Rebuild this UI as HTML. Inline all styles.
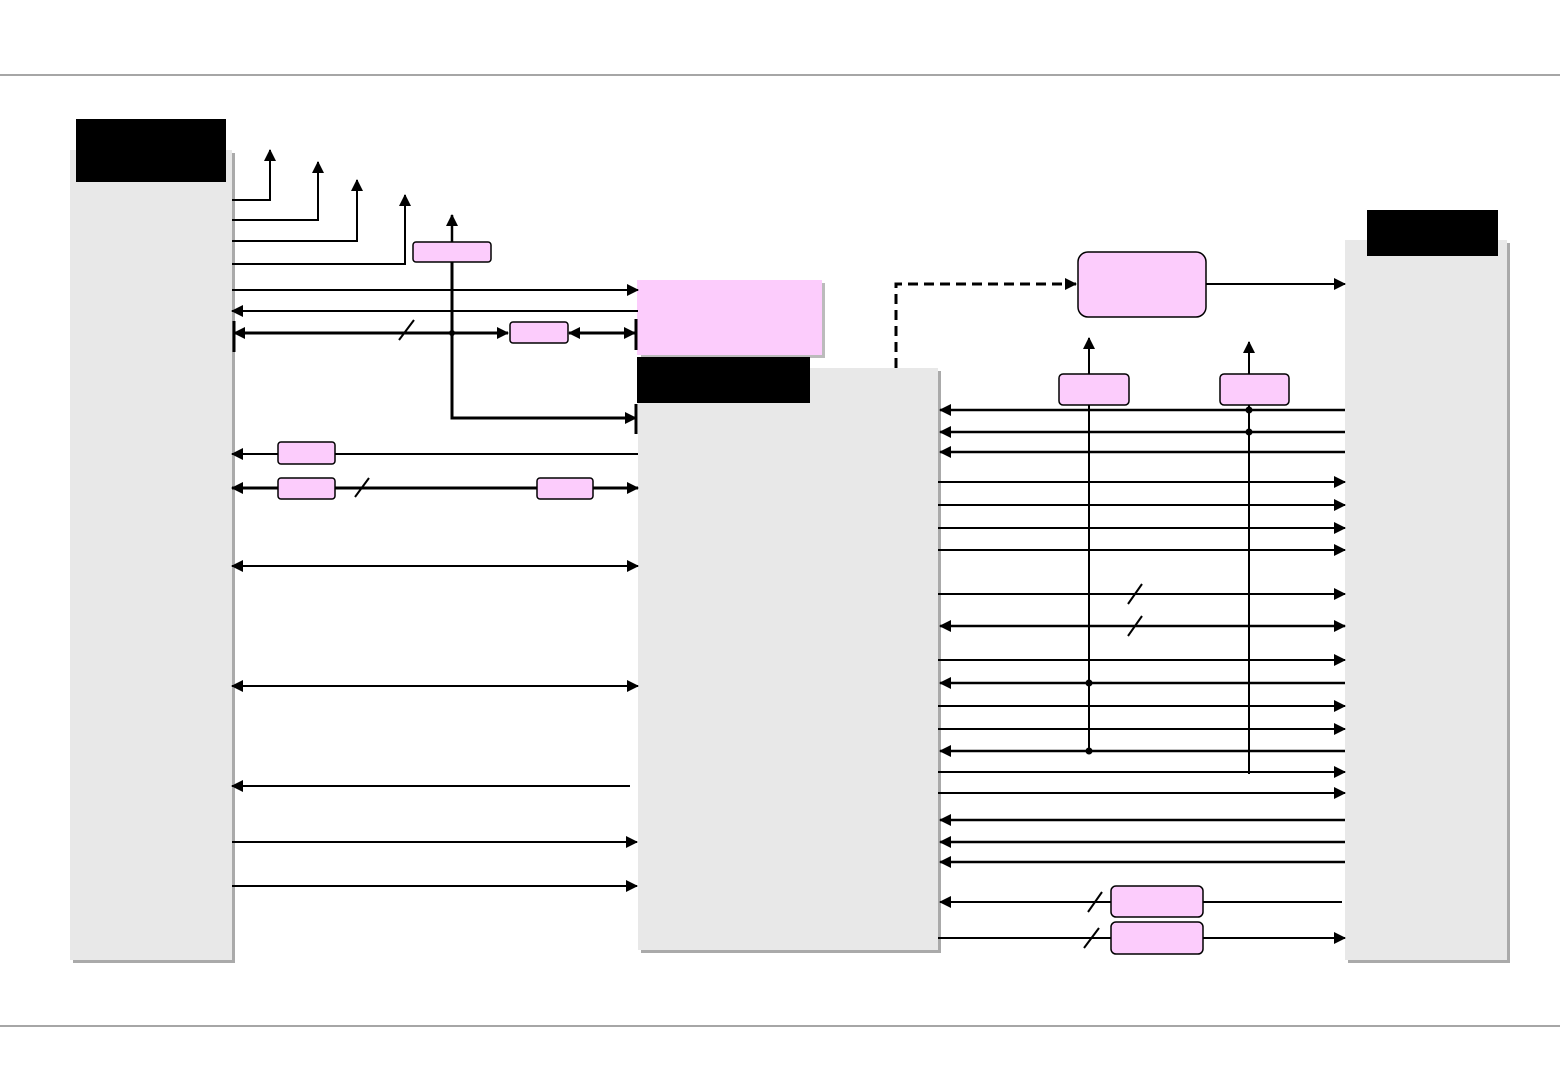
<!DOCTYPE html>
<html><head><meta charset="utf-8"><style>html,body{margin:0;padding:0;background:#fff}svg{display:block}</style></head>
<body>
<svg width="1560" height="1080" viewBox="0 0 1560 1080" xmlns="http://www.w3.org/2000/svg">
<defs>
<marker id="a" markerUnits="userSpaceOnUse" markerWidth="12" markerHeight="12" refX="11" refY="6" orient="auto-start-reverse"><path d="M0,0 L12,6 L0,12 z" fill="#000"/></marker>
</defs>
<line x1="0" y1="75" x2="1560" y2="75" stroke="#888" stroke-width="1.5"/>
<line x1="0" y1="1026" x2="1560" y2="1026" stroke="#888" stroke-width="1.5"/>
<!-- panels -->
<rect x="73" y="153" width="162" height="810" fill="#aaa"/>
<rect x="70" y="150" width="162" height="810" fill="#e8e8e8"/>
<rect x="76" y="119" width="150" height="63" fill="#000"/>
<rect x="641" y="371" width="300" height="582" fill="#aaa"/>
<rect x="638" y="368" width="300" height="582" fill="#e8e8e8"/>
<rect x="825" y="283" width="0" height="0"/>
<rect x="641" y="283" width="184" height="75" fill="#bbb"/>
<rect x="637" y="280" width="185" height="75" fill="#fcccfc"/>
<rect x="637" y="357" width="173" height="46" fill="#000"/>
<rect x="1348" y="243" width="162" height="720" fill="#aaa"/>
<rect x="1345" y="240" width="162" height="720" fill="#e8e8e8"/>
<rect x="1367" y="210" width="131" height="46" fill="#000"/>
<g stroke="#000" fill="none" stroke-width="2">
<!-- left top -->
<polyline points="232,200 270,200 270,150" marker-end="url(#a)"/>
<polyline points="232,220 318,220 318,162" marker-end="url(#a)"/>
<polyline points="232,241 357,241 357,180" marker-end="url(#a)"/>
<polyline points="232,264 405,264 405,195" marker-end="url(#a)"/>
<line x1="452" y1="242" x2="452" y2="215" stroke-width="2.5" marker-end="url(#a)"/>
<polyline points="452,262 452,418 636,418" stroke-width="3" marker-end="url(#a)"/>
<line x1="636" y1="404" x2="636" y2="434" stroke-width="3"/>
<line x1="232" y1="290" x2="638" y2="290" marker-end="url(#a)"/>
<line x1="638" y1="311" x2="232" y2="311" marker-end="url(#a)"/>
<line x1="234" y1="333" x2="508" y2="333" stroke-width="3" marker-start="url(#a)" marker-end="url(#a)"/>
<line x1="569" y1="333" x2="635" y2="333" stroke-width="3" marker-start="url(#a)" marker-end="url(#a)"/>
<line x1="234" y1="321" x2="234" y2="352" stroke-width="3"/>
<line x1="636" y1="319" x2="636" y2="350" stroke-width="3"/>
<line x1="399" y1="340" x2="414" y2="320"/>
<line x1="638" y1="454" x2="232" y2="454" marker-end="url(#a)"/>
<line x1="232" y1="488" x2="638" y2="488" stroke-width="3" marker-start="url(#a)" marker-end="url(#a)"/>
<line x1="355" y1="497" x2="369" y2="478"/>
<line x1="232" y1="566" x2="638" y2="566" marker-start="url(#a)" marker-end="url(#a)"/>
<line x1="232" y1="686" x2="638" y2="686" marker-start="url(#a)" marker-end="url(#a)"/>
<line x1="630" y1="786" x2="232" y2="786" marker-end="url(#a)"/>
<line x1="232" y1="842" x2="637" y2="842" marker-end="url(#a)"/>
<line x1="232" y1="886" x2="637" y2="886" marker-end="url(#a)"/>
<!-- dashed -->
<polyline points="896,368 896,284 1076,284" stroke-width="3" stroke-dasharray="10,6" marker-end="url(#a)"/>
<line x1="1206" y1="284" x2="1345" y2="284" marker-end="url(#a)"/>
<!-- right lines -->
<g stroke-width="2.5">
<line x1="1345" y1="410" x2="940" y2="410" marker-end="url(#a)"/>
<line x1="1345" y1="432" x2="940" y2="432" marker-end="url(#a)"/>
<line x1="1345" y1="452" x2="940" y2="452" marker-end="url(#a)"/>
<line x1="1345" y1="683" x2="940" y2="683" marker-end="url(#a)"/>
<line x1="1345" y1="751" x2="940" y2="751" marker-end="url(#a)"/>
<line x1="1345" y1="820" x2="940" y2="820" marker-end="url(#a)"/>
<line x1="1345" y1="842" x2="940" y2="842" marker-end="url(#a)"/>
<line x1="1345" y1="862" x2="940" y2="862" marker-end="url(#a)"/>
<line x1="940" y1="626" x2="1345" y2="626" marker-start="url(#a)" marker-end="url(#a)"/>
</g>
<line x1="1342" y1="902" x2="940" y2="902" marker-end="url(#a)"/>
<line x1="938" y1="482" x2="1345" y2="482" marker-end="url(#a)"/>
<line x1="938" y1="505" x2="1345" y2="505" marker-end="url(#a)"/>
<line x1="938" y1="528" x2="1345" y2="528" marker-end="url(#a)"/>
<line x1="938" y1="550" x2="1345" y2="550" marker-end="url(#a)"/>
<line x1="938" y1="594" x2="1345" y2="594" marker-end="url(#a)"/>
<line x1="938" y1="660" x2="1345" y2="660" marker-end="url(#a)"/>
<line x1="938" y1="706" x2="1345" y2="706" marker-end="url(#a)"/>
<line x1="938" y1="729" x2="1345" y2="729" marker-end="url(#a)"/>
<line x1="938" y1="772" x2="1345" y2="772" marker-end="url(#a)"/>
<line x1="938" y1="793" x2="1345" y2="793" marker-end="url(#a)"/>
<line x1="938" y1="938" x2="1345" y2="938" marker-end="url(#a)"/>
<line x1="1128" y1="604" x2="1142" y2="584"/>
<line x1="1128" y1="636" x2="1142" y2="616"/>
<line x1="1088" y1="912" x2="1102" y2="892"/>
<line x1="1084" y1="948" x2="1099" y2="928"/>
<!-- verticals -->
<line x1="1089" y1="374" x2="1089" y2="338" marker-end="url(#a)"/>
<line x1="1089" y1="405" x2="1089" y2="751"/>
<line x1="1249" y1="374" x2="1249" y2="342" marker-end="url(#a)"/>
<line x1="1249" y1="405" x2="1249" y2="774"/>
</g>
<g fill="#000">
<circle cx="1089" cy="683" r="3.5"/><circle cx="1089" cy="751" r="3.5"/>
<circle cx="1249" cy="410" r="3.5"/><circle cx="1249" cy="432" r="3.5"/>
<circle cx="452" cy="333" r="3"/>
</g>
<!-- pink boxes -->
<g fill="#fcccfc" stroke="#000" stroke-width="1.5">
<rect x="413" y="242" width="78" height="20" rx="3"/>
<rect x="510" y="322" width="58" height="21" rx="3"/>
<rect x="278" y="442" width="57" height="22" rx="3"/>
<rect x="278" y="478" width="57" height="21" rx="3"/>
<rect x="537" y="478" width="56" height="21" rx="3"/>
<rect x="1078" y="252" width="128" height="65" rx="10"/>
<rect x="1059" y="374" width="70" height="31" rx="4"/>
<rect x="1220" y="374" width="69" height="31" rx="4"/>
<rect x="1111" y="886" width="92" height="31" rx="5"/>
<rect x="1111" y="922" width="92" height="32" rx="5"/>
</g>
</svg>
</body></html>
